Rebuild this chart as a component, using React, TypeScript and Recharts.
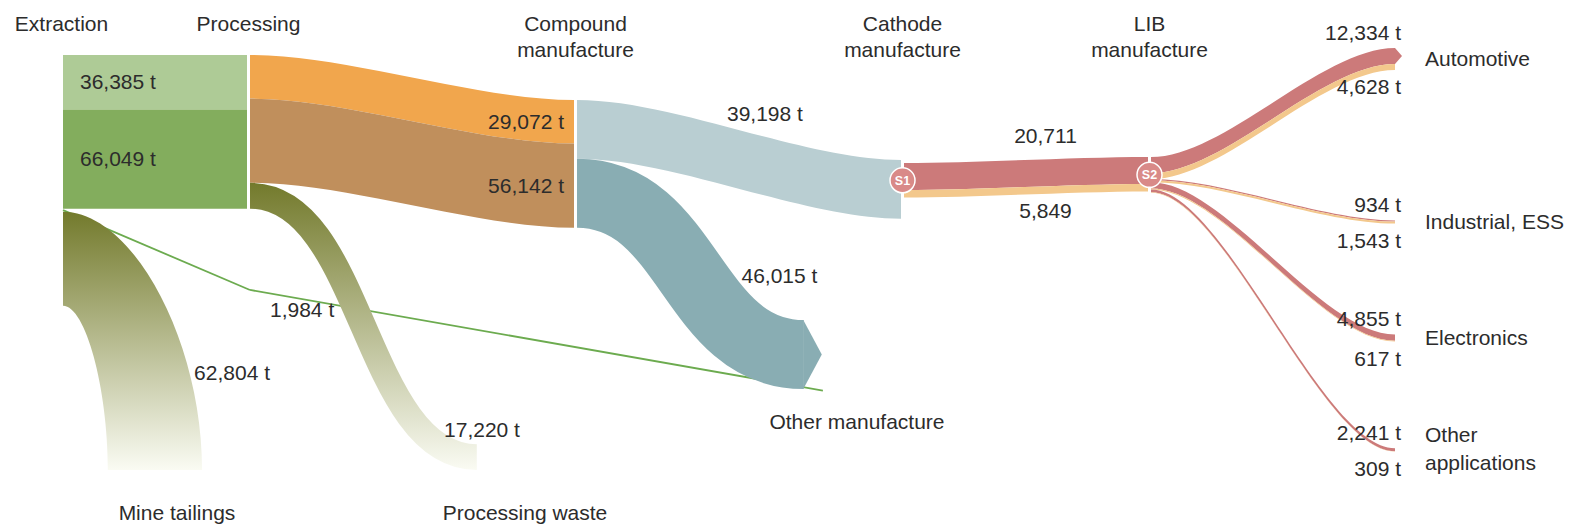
import React from "react";
import { Sankey } from "recharts";

const W = 1576;
const H = 528;
const NODE_W = 3;
const FONT = '"Liberation Sans", Arial, Helvetica, sans-serif';
const FS = 21;
const INK = "#2c2c2c";

// ---- values (tonnes) ----
const stages = ["Extraction", "Processing", "Compound manufacture", "Cathode manufacture", "LIB manufacture"];
const extractionToProcessing = [36385, 66049];
const processingToCompound = [29072, 56142];
const compoundToCathode = 39198;
const extractionToOtherManufacture = 1984;
const wasteNames = ["Mine tailings", "Processing waste", "Other manufacture"];
const wasteValues = [62804, 17220, 46015];
const cathodeToLib = [20711, 5849];
const endUses = ["Automotive", "Industrial, ESS", "Electronics", "Other applications"];
const endUseUpper = [12334, 934, 4855, 2241];
const endUseLower = [4628, 1543, 617, 309];

// invisible flows: they only reserve room in the sankey columns so the stages sit where they do
const gapLeft = [53230, 56215];
const gapMiddle = [30000, 144233];
const gapRight = [40000, 67500, 36733];
const gapEnd = [88460, 83850, 27194, 85215, 82146];

const COL = {
  lightGreen: "#aecb96",
  green: "#83ad5d",
  orange: "#f1a64d",
  brown: "#c08f5c",
  slate: "#b9ced2",
  teal: "#89adb3",
  red: "#cc7a7a",
  sand: "#f3c88c",
  oliveTop: "#737a2c",
  oliveEnd: "#fafbf3",
  line: "#6cab4f",
  hub: "#d98a88",
};

// label placement for the three waste flows
const wasteLabelT = [0.35, 0.8, 0.51];
const wasteNameDx = [-70, -49, -44];
const wasteNameDy = [50, 50, 37];

const fmt = (v: number) => v.toLocaleString("en-US");

type NodeMeta = { name: string; kind: string; hub?: string };
type LinkMeta = {
  source: number;
  target: number;
  value: number;
  kind: string;
  color?: string;
  tag?: string;
  unit?: boolean;
  part?: string;
  wi?: number;
  fade?: boolean;
};

// ---------- left part: extraction -> processing ----------
const nodesA1: NodeMeta[] = [
  { name: stages[0], kind: "stage" },
  { name: "a1-root", kind: "hidden" },
  { name: stages[1], kind: "stage" },
  { name: "a1-gap-top", kind: "hidden" },
  { name: "a1-joint", kind: "hidden" },
  { name: "a1-gap-bottom", kind: "hidden" },
  { name: wasteNames[0], kind: "waste" },
];
const linksA1: LinkMeta[] = [
  { source: 0, target: 4, value: extractionToOtherManufacture, kind: "line", part: "first" },
  { source: 0, target: 2, value: extractionToProcessing[0], kind: "band", color: COL.lightGreen, tag: "start", unit: true },
  { source: 0, target: 2, value: extractionToProcessing[1], kind: "band", color: COL.green, tag: "start", unit: true },
  { source: 0, target: 6, value: wasteValues[0], kind: "drop", fade: true, wi: 0 },
  { source: 1, target: 3, value: gapLeft[0], kind: "hidden" },
  { source: 1, target: 5, value: gapLeft[1], kind: "hidden" },
];

// ---------- middle part: processing -> compound -> cathode ----------
const nodesA2: NodeMeta[] = [
  { name: "processing-out", kind: "hidden" },
  { name: "a2-gap-root", kind: "hidden" },
  { name: "a2-joint", kind: "hidden" },
  { name: "a2-root", kind: "hidden" },
  { name: "a2-gap-c1", kind: "hidden" },
  { name: stages[2], kind: "stage" },
  { name: "a2-gap-c2", kind: "hidden" },
  { name: wasteNames[1], kind: "waste" },
  { name: "a2-gap-r1", kind: "hidden" },
  { name: stages[3], kind: "stage" },
  { name: "a2-gap-r2", kind: "hidden" },
  { name: wasteNames[2], kind: "waste" },
  { name: "a2-gap-r3", kind: "hidden" },
];
const linksA2: LinkMeta[] = [
  { source: 2, target: 11, value: extractionToOtherManufacture, kind: "line", part: "last" },
  { source: 0, target: 5, value: processingToCompound[0], kind: "band", color: COL.orange, tag: "end", unit: true },
  { source: 0, target: 5, value: processingToCompound[1], kind: "band", color: COL.brown, tag: "end", unit: true },
  { source: 0, target: 7, value: wasteValues[1], kind: "waste", fade: true, wi: 1 },
  { source: 5, target: 9, value: compoundToCathode, kind: "band", color: COL.slate, tag: "above", unit: true },
  { source: 5, target: 11, value: wasteValues[2], kind: "waste", color: COL.teal, wi: 2 },
  { source: 1, target: 6, value: gapLeft[0], kind: "hidden" },
  { source: 3, target: 4, value: 1, kind: "hidden" },
  { source: 4, target: 8, value: gapMiddle[0], kind: "hidden" },
  { source: 6, target: 8, value: gapRight[0], kind: "hidden" },
  { source: 6, target: 10, value: gapRight[1], kind: "hidden" },
  { source: 6, target: 12, value: gapRight[2], kind: "hidden" },
  { source: 7, target: 12, value: 1, kind: "hidden" },
];

// ---------- right part: cathode -> LIB -> applications ----------
const nodesB: NodeMeta[] = [
  { name: "b-gap-root", kind: "hidden" },
  { name: "cathode-out", kind: "hub", hub: "S1" },
  { name: "b-root", kind: "hidden" },
  { name: "b-gap-mid", kind: "hidden" },
  { name: stages[4], kind: "hubStage", hub: "S2" },
  { name: endUses[0], kind: "end" },
  { name: "b-gap-1", kind: "hidden" },
  { name: endUses[1], kind: "end" },
  { name: "b-gap-2", kind: "hidden" },
  { name: endUses[2], kind: "end" },
  { name: "b-gap-3", kind: "hidden" },
  { name: endUses[3], kind: "end" },
];
const linksB: LinkMeta[] = [
  { source: 1, target: 4, value: cathodeToLib[0], kind: "band", color: COL.red, tag: "above" },
  { source: 1, target: 4, value: cathodeToLib[1], kind: "band", color: COL.sand, tag: "below" },
  ...endUses.flatMap((_, i) => [
    { source: 4, target: 5 + i * 2, value: endUseUpper[i], kind: "band", color: COL.red },
    { source: 4, target: 5 + i * 2, value: endUseLower[i], kind: "band", color: COL.sand },
  ]),
  { source: 0, target: 3, value: gapEnd[1], kind: "hidden" },
  { source: 0, target: 6, value: gapEnd[0] - gapEnd[1], kind: "hidden" },
  { source: 3, target: 6, value: gapEnd[1], kind: "hidden" },
  { source: 2, target: 6, value: gapEnd[2], kind: "hidden" },
  { source: 2, target: 8, value: gapEnd[3], kind: "hidden" },
  { source: 2, target: 10, value: gapEnd[4], kind: "hidden" },
];

const cubic = (a: number, b: number, c: number, d: number, t: number) => {
  const u = 1 - t;
  return u * u * u * a + 3 * u * u * t * b + 3 * u * t * t * c + t * t * t * d;
};

const txt = {
  fontFamily: FONT,
  fontSize: FS,
  fill: INK,
} as const;

function fadeDefs(id: string, y1: number, y2: number) {
  return (
    <defs>
      <linearGradient id={id} gradientUnits="userSpaceOnUse" x1={0} y1={y1} x2={0} y2={y2}>
        <stop offset="0" stopColor={COL.oliveTop} />
        <stop offset="1" stopColor={COL.oliveEnd} />
      </linearGradient>
    </defs>
  );
}

function makeLink(tag: string, links: LinkMeta[]) {
  return function LinkShape(p: any) {
    const { sourceX: sx, targetX: tx, sourceY: sy, targetY: ty, sourceControlX: scx, targetControlX: tcx, linkWidth: w, index } = p;
    const meta = links[index] || p.payload;
    if (!meta || meta.kind === "hidden") return <g />;
    const v = meta.value;
    const id = `fade-${tag}-${index}`;

    if (meta.kind === "line") {
      const ex = meta.part === "first" ? tx + NODE_W : sx + 0.88 * (tx - sx);
      return (
        <g>
          <line x1={sx} y1={sy} x2={ex} y2={ty} stroke={COL.line} strokeWidth={1.8} />
          {meta.part === "last" && (
            <text {...txt} x={sx + 20} y={sy + 27}>
              {fmt(v)} t
            </text>
          )}
        </g>
      );
    }

    if (meta.kind === "drop") {
      // falls straight down out of the bottom of the stage
      const y0 = sy - w / 2;
      const y1 = sy + w / 2;
      const ey = ty + w / 2;
      const ex = sx + 0.5 * (tx - sx) - w / 2;
      const xo = ex + w;
      const d =
        `M${sx},${y0}C${sx + 0.5 * (xo - sx)},${y0} ${xo},${ey - 0.5 * (ey - y0)} ${xo},${ey}` +
        `L${ex},${ey}C${ex},${ey - 0.5 * (ey - y1)} ${sx + 0.5 * (ex - sx)},${y1} ${sx},${y1}Z`;
      const k = wasteLabelT[meta.wi ?? 0];
      return (
        <g>
          {fadeDefs(id, y0, ey)}
          <path d={d} fill={`url(#${id})`} />
          <text {...txt} x={xo - 8} y={ey - k * (ey - y0)}>
            {fmt(v)} t
          </text>
        </g>
      );
    }

    if (meta.kind === "waste") {
      // thick stroke: leaves the stage sideways, drops, and turns sideways again at its end
      const ex = sx + 0.7 * (tx - sx);
      const a = 0.5 * (ex - sx);
      const d = `M${sx},${sy}C${sx + a},${sy} ${ex - a},${ty} ${ex},${ty}`;
      const t = wasteLabelT[meta.wi ?? 0];
      const lx = cubic(sx, sx + a, ex - a, ex, t);
      const ly = cubic(sy, sy, ty, ty, t);
      return (
        <g>
          {meta.fade && fadeDefs(id, sy - w / 2, ty + w / 2)}
          <path d={d} fill="none" stroke={meta.fade ? `url(#${id})` : meta.color} strokeWidth={w} />
          {!meta.fade && (
            <polygon points={`${ex - 0.5},${ty - w / 2} ${ex + 18},${ty} ${ex - 0.5},${ty + w / 2}`} fill={meta.color} />
          )}
          <text {...txt} x={lx + 0.6 * w + 8} y={ly + 7}>
            {fmt(v)} t
          </text>
        </g>
      );
    }

    // regular band
    const y0s = sy - w / 2;
    const y1s = sy + w / 2;
    const y0t = ty - w / 2;
    const y1t = ty + w / 2;
    const d =
      `M${sx},${y0s}C${scx},${y0s} ${tcx},${y0t} ${tx},${y0t}` +
      `L${tx},${y1t}C${tcx},${y1t} ${scx},${y1s} ${sx},${y1s}Z`;
    const label = meta.tag ? `${fmt(v)}${meta.unit ? " t" : ""}` : null;
    let labelEl = null;
    if (label && meta.tag === "start") {
      labelEl = (
        <text {...txt} x={sx + 17} y={sy + 7}>
          {label}
        </text>
      );
    } else if (label && meta.tag === "end") {
      labelEl = (
        <text {...txt} x={tx - 10} y={ty + 7} textAnchor="end">
          {label}
        </text>
      );
    } else if (label && (meta.tag === "above" || meta.tag === "below")) {
      const xT = sx + 0.58 * (tx - sx);
      let lo = 0;
      let hi = 1;
      for (let i = 0; i < 30; i++) {
        const m = (lo + hi) / 2;
        if (cubic(sx, scx, tcx, tx, m) < xT) lo = m;
        else hi = m;
      }
      const tt = (lo + hi) / 2;
      const edge = meta.tag === "above" ? cubic(y0s, y0s, y0t, y0t, tt) - 16 : cubic(y1s, y1s, y1t, y1t, tt) + 24;
      labelEl = (
        <text {...txt} x={xT} y={edge} textAnchor="middle">
          {label}
        </text>
      );
    }
    return (
      <g>
        <path d={d} fill={meta.color} />
        {labelEl}
      </g>
    );
  };
}

function makeNode(nodes: NodeMeta[]) {
  return function NodeShape(p: any) {
    const { x, y, width, height, index } = p;
    const meta = nodes[index] || p.payload;
    if (!meta || meta.kind === "hidden") return <g />;
    const name = meta.name;
    const cx = x + width / 2;
    const cy = y + height / 2;

    const stageLabel = (nm: string) => {
      const lines = nm.endsWith(" manufacture") ? [nm.replace(/ manufacture$/, ""), "manufacture"] : [nm];
      return lines.map((ln, i) => (
        <text key={i} {...txt} x={cx} y={31 + i * 26} textAnchor="middle">
          {ln}
        </text>
      ));
    };
    const hubCircle = (lbl: string) => (
      <g>
        <circle cx={cx} cy={cy} r={12.5} fill={COL.hub} stroke="#fff" strokeWidth={1.5} />
        <text x={cx} y={cy + 4.5} textAnchor="middle" fontFamily={FONT} fontSize={12.5} fontWeight={700} fill="#fff">
          {lbl}
        </text>
      </g>
    );

    if (meta.kind === "stage") return <g>{stageLabel(name)}</g>;
    if (meta.kind === "hub") return hubCircle(meta.hub || "");
    if (meta.kind === "hubStage")
      return (
        <g>
          {stageLabel(name)}
          {hubCircle(meta.hub || "")}
        </g>
      );
    if (meta.kind === "waste") {
      const wi = wasteNames.indexOf(name);
      return (
        <text {...txt} x={x + wasteNameDx[wi]} y={y + height + wasteNameDy[wi]} textAnchor="middle">
          {name}
        </text>
      );
    }
    if (meta.kind === "end") {
      const i = endUses.indexOf(name);
      const nameLines = i === 3 ? ["Other", "applications"] : [name];
      const redH = (height * endUseUpper[i]) / (endUseUpper[i] + endUseLower[i]);
      return (
        <g>
          {i === 0 && <polygon points={`${x},${y} ${x + 7},${y + redH / 2} ${x},${y + redH}`} fill={COL.red} />}
          <text {...txt} x={x + 6} y={y - 8} textAnchor="end">
            {fmt(endUseUpper[i])} t
          </text>
          <text {...txt} x={x + 6} y={y + height + 24} textAnchor="end">
            {fmt(endUseLower[i])} t
          </text>
          {nameLines.map((ln, k) => (
            <text key={k} {...txt} x={x + 30} y={nameLines.length === 2 ? cy - 8 + k * 28 : cy + 7}>
              {ln}
            </text>
          ))}
        </g>
      );
    }
    return <g />;
  };
}

const layer: React.CSSProperties = { position: "absolute", left: 0, top: 0 };

export default function App() {
  return (
    <div style={{ position: "absolute", left: 0, top: 0, width: W, height: H, background: "#fff", overflow: "hidden" }}>
      <div style={layer}>
        <Sankey
          width={W}
          height={H}
          data={{ nodes: nodesA1, links: linksA1 }}
          nodeWidth={NODE_W}
          nodePadding={0}
          iterations={0}
          linkCurvature={0.3}
          sort={false}
          margin={{ left: 60, right: W - 60 - 190, top: 55, bottom: H - 55 - 415 }}
          node={makeNode(nodesA1)}
          link={makeLink("a1", linksA1)}
        />
      </div>
      <div style={layer}>
        <Sankey
          width={W}
          height={H}
          data={{ nodes: nodesA2, links: linksA2 }}
          nodeWidth={NODE_W}
          nodePadding={0}
          iterations={0}
          linkCurvature={0.3}
          sort={false}
          margin={{ left: 247, right: W - 247 - 657, top: 55, bottom: H - 55 - 415 }}
          node={makeNode(nodesA2)}
          link={makeLink("a2", linksA2)}
        />
      </div>
      <div style={layer}>
        <Sankey
          width={W}
          height={H}
          data={{ nodes: nodesB, links: linksB }}
          nodeWidth={NODE_W}
          nodePadding={0}
          iterations={0}
          linkCurvature={0.3}
          sort={false}
          margin={{ left: 901, right: W - 901 - 497, top: 48, bottom: H - 48 - 403.6 }}
          node={makeNode(nodesB)}
          link={makeLink("b", linksB)}
        />
      </div>
    </div>
  );
}
